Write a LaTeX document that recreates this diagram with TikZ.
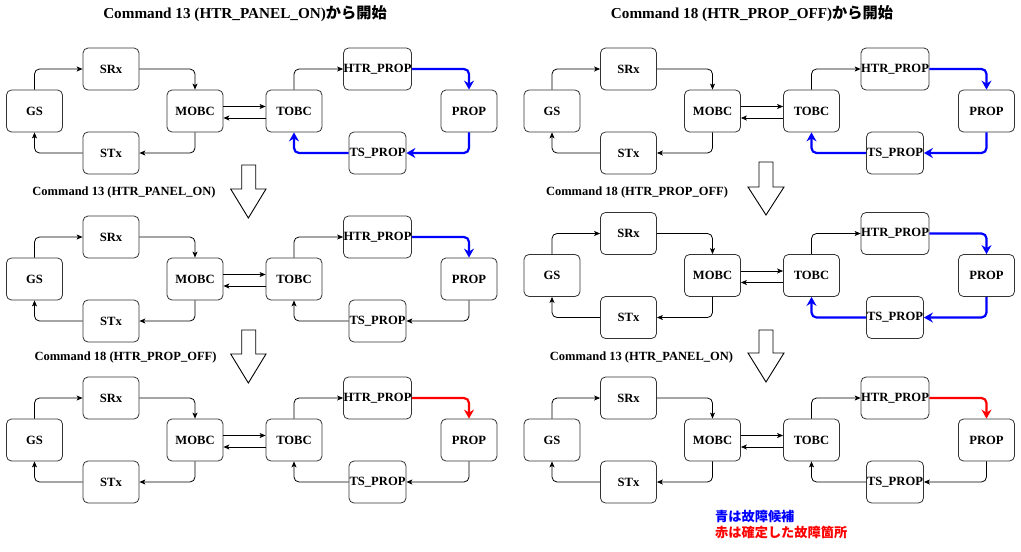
\documentclass[tikz,border=0pt]{standalone}
\usepackage{fontspec}
\setmainfont{Liberation Serif}
\newfontfamily\cjk{Noto Sans CJK JP}
\usetikzlibrary{arrows.meta}
\definecolor{fblue}{HTML}{0000FF}
\definecolor{fred}{HTML}{FF0000}
\tikzset{
  box/.style={draw=black!80, line width=0.8pt, rounded corners=5pt, minimum width=56pt, minimum height=42pt, inner sep=0pt, font=\fontsize{12.6}{14}\selectfont\bfseries, text=black},
  conn/.style={draw=black, line width=0.8pt, rounded corners=5pt, -{Stealth[length=6pt,width=5pt,inset=1.5pt]}},
  blu/.style={draw=fblue, line width=2.2pt, rounded corners=5pt, -{Stealth[length=9pt,width=10pt,inset=3pt]}},
  redc/.style={draw=fred, line width=2.2pt, rounded corners=5pt, -{Stealth[length=9pt,width=10pt,inset=3pt]}},
  lbl/.style={font=\fontsize{12.5}{14}\selectfont\bfseries, inner sep=0pt},
  ttl/.style={font=\fontsize{15.2}{17}\selectfont\bfseries, inner sep=0pt},
  hollow/.style={draw=black, line width=0.9pt, fill=white, line join=miter}
}
\newcommand\jp[1]{{\cjk\bfseries #1}}
% #1 prefix, #2 x of GS centre, #3 y of GS centre, #4 style HTR->PROP, #5 style of PROP->TS->TOBC
\newcommand\drawpanel[5]{%
  \node[box] (#1gs) at (#2,#3) {GS};
  \node[box] (#1srx) at ([shift={(76.5,-42)}]#1gs.center) {SRx};
  \node[box] (#1mobc) at ([shift={(160.5,0)}]#1gs.center) {MOBC};
  \node[box] (#1stx) at ([shift={(76.5,42)}]#1gs.center) {STx};
  \node[box] (#1tobc) at ([shift={(259.5,0)}]#1gs.center) {TOBC};
  \node[box, minimum width=63pt] (#1htr) at ([shift={(343,-42)}]#1gs.center) {HTR\_PROP};
  \node[box] (#1prop) at ([shift={(434.5,0)}]#1gs.center) {PROP};
  \node[box, minimum width=57pt] (#1ts) at ([shift={(343,42)}]#1gs.center) {TS\_PROP};
  \draw[conn] (#1gs.north) |- (#1srx.west);
  \draw[conn] (#1srx.east) -| (#1mobc.north);
  \draw[conn] (#1mobc.south) |- (#1stx.east);
  \draw[conn] (#1stx.west) -| (#1gs.south);
  \draw[conn] ([yshift=4.5pt]#1mobc.east) -- ([yshift=4.5pt]#1tobc.west);
  \draw[conn] ([yshift=-7pt]#1tobc.west) -- ([yshift=-7pt]#1mobc.east);
  \draw[conn] (#1tobc.north) |- (#1htr.west);
  \draw[#4] (#1htr.east) -| (#1prop.north);
  \draw[#5] (#1prop.south) |- (#1ts.east);
  \draw[#5] (#1ts.west) -| (#1tobc.south);
}
% hollow down arrow: #1 shaft left, #2 shaft right, #3 head left, #4 head right, #5 top, #6 base, #7 tip
\newcommand\hollowarrow[7]{%
  \draw[hollow] (#1,#5) -- (#2,#5) -- (#2,#6) -- (#4,#6) -- ({(#3+#4)/2},#7) -- (#3,#6) -- (#1,#6) -- cycle;
}
\begin{document}
\begin{tikzpicture}[x=1pt,y=-1pt]
\useasboundingbox (0,0) rectangle (1021,552);
\fill[white] (0,0) rectangle (1021,552);
% titles
\node[ttl] (t1) at (245,14) {Command 13 (HTR\_PANEL\_ON)\jp{から開始}};
\node[ttl] (t2) at (752,14) {Command 18 (HTR\_PROP\_OFF)\jp{から開始}};
% left column
\drawpanel{a}{34.5}{111}{blu}{blu}
\drawpanel{b}{34.5}{279}{blu}{conn}
\drawpanel{c}{34.5}{440}{redc}{conn}
% right column
\drawpanel{d}{552}{111}{blu}{blu}
\drawpanel{e}{552}{275.5}{blu}{blu}
\drawpanel{f}{552}{440}{redc}{conn}
% step labels
\node[lbl] (l1) at (124,192) {Command 13 (HTR\_PANEL\_ON)};
\node[lbl] (l2) at (125.5,357) {Command 18 (HTR\_PROP\_OFF)};
\node[lbl] (l3) at (637,192) {Command 18 (HTR\_PROP\_OFF)};
\node[lbl] (l4) at (641.5,357) {Command 13 (HTR\_PANEL\_ON)};
% hollow arrows
\hollowarrow{241.7}{255.7}{230.7}{266}{165}{189}{218}
\hollowarrow{241.7}{255.7}{230.7}{266}{330}{354}{383}
\hollowarrow{759}{773}{748}{784}{162}{187}{215}
\hollowarrow{759}{773}{748}{784}{330}{353}{382}
% legend
\node[anchor=west, inner sep=0pt, text=fblue, font=\fontsize{13.2}{15}\selectfont\cjk\bfseries] (lg1) at (715,516) {青は故障候補};
\node[anchor=west, inner sep=0pt, text=fred, font=\fontsize{13.2}{15}\selectfont\cjk\bfseries] (lg2) at (715,532.5) {赤は確定した故障箇所};
\end{tikzpicture}
\end{document}
